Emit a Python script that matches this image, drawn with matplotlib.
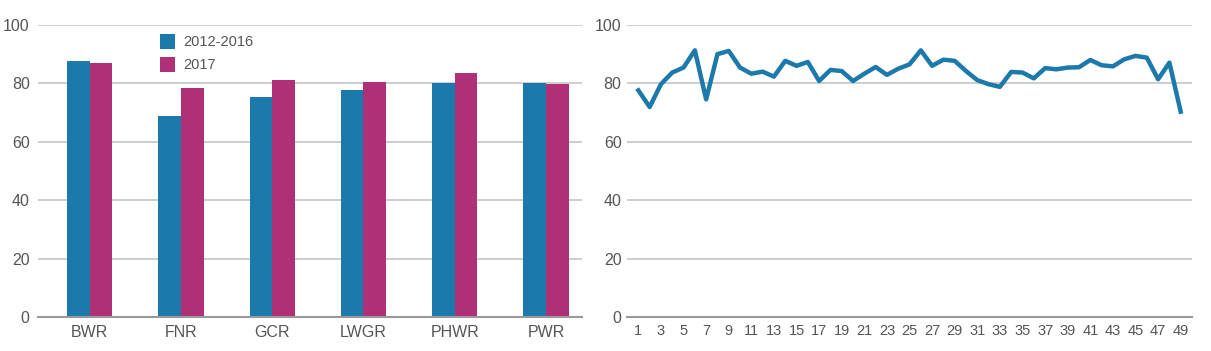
import numpy as np
from matplotlib import pyplot as plt

plt.rcParams['font.family'] = ['Liberation Sans', 'DejaVu Sans']

# Bar chart data
reactors = ["BWR", "FNR", "GCR", "LWGR", "PHWR", "PWR"]
avg_2012_2016 = [87.6, 68.8, 75.3, 77.6, 80.0, 80.0]
val_2017 = [86.8, 78.5, 81.2, 80.4, 83.7, 79.8]

# Line chart data
line_x = list(range(1, 50))
line_y = [77.6, 71.9, 79.7, 83.7, 85.4, 91.3, 74.5, 90.0, 91.1, 85.4,
          83.3, 84.0, 82.3, 87.7, 86.0, 87.3, 80.8, 84.6, 84.2, 80.8,
          83.3, 85.6, 82.9, 85.0, 86.5, 91.3, 86.0, 88.1, 87.7, 84.2,
          81.1, 79.7, 78.8, 83.9, 83.7, 81.7, 85.2, 84.8, 85.4, 85.5,
          88.0, 86.2, 85.8, 88.2, 89.4, 88.8, 81.4, 87.1, 70.3]

blue = '#1b79ac'
magenta = '#b03077'
grid_c = '#c9c9c9'
text_c = '#555555'

fig = plt.figure(figsize=(12.11, 3.51), dpi=100)
ax1 = fig.add_axes([0.0314, 0.0969, 0.4492, 0.8321])
ax2 = fig.add_axes([0.5178, 0.0969, 0.4665, 0.8321])


def style(ax):
    ax.set_ylim(0, 100)
    ax.set_yticks([0, 20, 40, 60, 80, 100])
    ax.grid(axis='y', color=grid_c, lw=1.3)
    ax.set_axisbelow(True)
    for s in ['top', 'right', 'left']:
        ax.spines[s].set_visible(False)
    ax.spines['bottom'].set_color('#999999')
    ax.spines['bottom'].set_linewidth(1.5)
    ax.tick_params(length=0, colors=text_c)


x = np.arange(len(reactors))
w = 0.247
ax1.bar(x - w / 2, avg_2012_2016, w, color=blue, label='2012-2016')
ax1.bar(x + w / 2, val_2017, w, color=magenta, label='2017')
style(ax1)
ax1.set_xlim(-0.567, 5.395)
ax1.set_xticks(x)
ax1.set_xticklabels(reactors)
ax1.tick_params(axis='y', labelsize=11.5, pad=6)
ax1.tick_params(axis='x', labelsize=11.5, pad=6)
ax1.legend(loc='upper left', bbox_to_anchor=(0.2, 1.015), frameon=False,
           fontsize=10.5, handlelength=1.0, handleheight=1.2,
           handletextpad=0.6, labelspacing=0.55, labelcolor=text_c)

ax2.plot(line_x, line_y, color=blue, lw=3.2)
style(ax2)
ax2.set_xlim(0, 50)
ax2.set_xticks(line_x[::2])
ax2.tick_params(axis='y', labelsize=11.5, pad=4)
ax2.tick_params(axis='x', labelsize=10.5, pad=5)

fig.savefig('out.png', dpi=100)
